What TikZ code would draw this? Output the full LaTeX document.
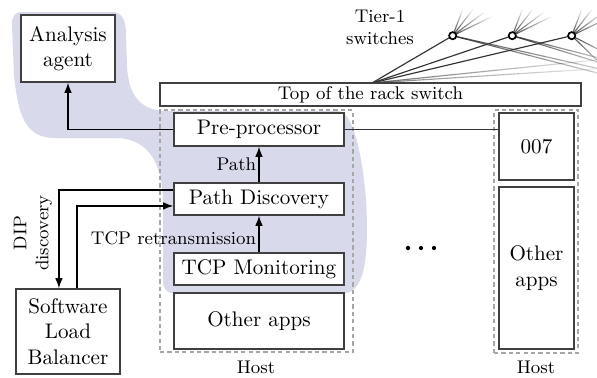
\documentclass[tikz,border=0pt]{standalone}
\usetikzlibrary{calc,arrows.meta,backgrounds}
\definecolor{blob}{RGB}{217,217,236}
\newcommand\fadeln[3]{%
  \foreach \k in {0,...,11}{%
    \pgfmathsetmacro\fda{\k/12}%
    \pgfmathsetmacro\fdb{(\k+1)/12}%
    \pgfmathsetmacro\fop{#3*(1-\k/12)}%
    \draw[link,draw opacity=\fop] ($#1!\fda!#2$) -- ($#1!\fdb!#2$);}}
\begin{document}
\begin{tikzpicture}[x=0.474pt,y=-0.474pt,
  sz/.style 2 args={minimum width=#1*0.474pt,minimum height=#2*0.474pt},
  box/.style={draw=black!75,line width=0.6pt,fill=white,inner sep=0pt,align=center,
    font=\fontsize{10}{12}\selectfont},
  lab/.style={font=\fontsize{8.7}{10.5}\selectfont,inner sep=1pt},
  hostbox/.style={draw=black!35,line width=0.55pt,dash pattern=on 2pt off 1.5pt,inner sep=0pt},
  arr/.style={-{Latex[length=4.8pt,width=3.6pt]},line width=0.7pt,black},
  link/.style={draw=black!80,line width=0.55pt},
  sw/.style={circle,draw=black,fill=white,line width=0.8pt,inner sep=0pt,minimum size=3.4pt},
  ]
\useasboundingbox (0,0) rectangle (597,377);

% boxes
\node[hostbox,sz={193}{242}] (h1) at (256.5,231) {};
\node[hostbox,sz={84}{243}] (h2) at (536,231.5) {};
\node[box,sz={94}{67}] (ana) at (68,48.5) {Analysis\\agent};
\node[box,sz={421}{23},font=\fontsize{8.7}{10}\selectfont] (tor) at (370.5,94.5) {Top of the rack switch};
\node[box,sz={170}{33}] (pre) at (259,129.5) {Pre-processor};
\node[box,sz={170}{32}] (pd) at (259,199) {Path Discovery};
\node[box,sz={170}{32}] (tcp) at (259,269) {TCP Monitoring};
\node[box,sz={170}{56}] (oth1) at (259,321) {Other apps};
\node[box,sz={75}{67}] (b7) at (536.5,146.5) {007};
\node[box,sz={75}{162}] (oth2) at (536.5,268) {Other\\apps};
\node[box,sz={104}{85}] (slb) at (68,331.5) {Software\\Load\\Balancer};

% labels
\node[lab] (hl1) at (256,367) {Host};
\node[lab] (hl2) at (536,367) {Host};
\node[lab,align=center] (t1) at (380,27) {Tier-1\\switches};
\node[lab,rotate=90,align=center] (dip) at (33,233) {DIP\\discovery};

% switches
\node[sw] (s1) at (452.7,35.7) {};
\node[sw] (s2) at (512.3,35.7) {};
\node[sw] (s3) at (571.7,35.7) {};
\coordinate (tp) at (372,83);

\begin{scope}[on background layer]
  \fill[blob] (22,12) -- (112,12) .. controls (122,12) and (126,20) .. (126,35)
    -- (127,65) .. controls (128,95) and (140,110) .. (165,111)
    -- (338,111) .. controls (352,111) and (362,150) .. (366,200)
    .. controls (369,250) and (366,292) .. (345,293)
    -- (173,293) .. controls (166,293) and (163,288) .. (163,281)
    -- (163,200) .. controls (162,165) and (150,140) .. (118,138)
    -- (55,138) .. controls (25,138) and (18,115) .. (14,75)
    -- (12,25) .. controls (12,16) and (15,12) .. (22,12) -- cycle;
  % ToR uplinks
  \draw[link] (tp) -- (s1.center);
  \draw[link] (tp) -- (s2.center);
  \draw[link] (tp) -- (s3.center);
  \fadeln{(tp)}{(625,57)}{0.7}
  \fadeln{(tp)}{(625,67)}{0.6}
  % switch fans
  \foreach \s in {s1,s2,s3}{%
    \fadeln{(\s)}{($(\s)+(10,-26)$)}{0.9}
    \fadeln{(\s)}{($(\s)+(20,-26)$)}{0.9}
    \fadeln{(\s)}{($(\s)+(31,-23)$)}{0.9}
    \fadeln{(\s)}{($(\s)+(39,-19)$)}{0.9}
  }
  \fadeln{(s1)}{(640,78)}{0.9}
  \fadeln{(s1)}{(640,84)}{0.9}
  \fadeln{(s2)}{(630,66)}{0.9}
  \fadeln{(s2)}{(630,72)}{0.9}
  \fadeln{(s3)}{(615,58)}{0.9}
  \fadeln{(s3)}{(605,68)}{0.9}
\end{scope}

% connectors
\draw[arr] (pre.west) -| (ana.south);
\draw[link] (pre.east) -- (pre.east -| b7.west);
\draw[arr] (pd.north) -- node[lab,left] (plab) {Path} (pre.south);
\draw[arr] (tcp.north) -- node[lab,left,yshift=-1.9pt] (tlab) {TCP retransmission} (pd.south);
\draw[arr] ([yshift=4.3pt]pd.west) -| ([xshift=-4.3pt]slb.north);
\draw[arr] ([xshift=4.3pt]slb.north) |- ([yshift=-3.3pt]pd.west);

% dots
\fill (408,248) circle (1pt);
\fill (421,248) circle (1pt);
\fill (434,248) circle (1pt);
\end{tikzpicture}
\end{document}
